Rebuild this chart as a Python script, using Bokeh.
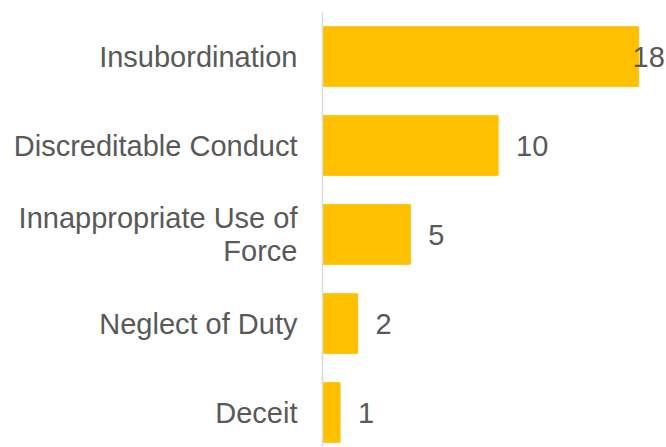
from bokeh.plotting import figure
from bokeh.models import Range1d, ColumnDataSource, FixedTicker
from bokeh.embed import file_html
from bokeh.resources import INLINE
from bokeh.core.properties import value

categories = ["Insubordination", "Discreditable Conduct", "Innappropriate Use of\nForce",
              "Neglect of Duty", "Deceit"]
counts = [18, 10, 5, 2, 1]

# layout
W, H = 666, 447
left_border = 322
top_border = 12
frame_w = W - left_border
frame_h = H - top_border
px_x = 17.56            # pixels per unit on x
row_px = 89             # pixels per category row
x_end = frame_w / px_x
n = len(categories)
ypos = [n - 1 - i for i in range(n)]
y_top = (n - 1) + 44 / row_px
y_bottom = y_top - frame_h / row_px

label_x = [min(c + 18 / px_x, x_end - 34 / px_x) for c in counts]
src = ColumnDataSource(dict(y=ypos, v=counts, lx=label_x, txt=[str(c) for c in counts]))

p = figure(width=W, height=H, output_backend="svg", toolbar_location=None,
           x_range=Range1d(0, x_end), y_range=Range1d(y_bottom, y_top),
           min_border_left=left_border, min_border_top=top_border,
           min_border_right=0, min_border_bottom=0)
p.outline_line_color = None
p.background_fill_color = "white"
p.border_fill_color = "white"
p.xgrid.visible = False
p.ygrid.visible = False
p.xaxis.visible = False

p.hbar(y="y", left=0, right="v", height=0.67, color="#FFC000", source=src)
p.text(x="lx", y="y", text="txt", source=src, text_align="left", text_baseline="middle",
       text_font=value("Liberation Sans"), text_font_size="29px", text_color="#595959")

ax = p.yaxis[0]
ax.ticker = FixedTicker(ticks=ypos)
ax.major_label_overrides = {y: c for y, c in zip(ypos, categories)}
ax.major_tick_line_color = None
ax.minor_tick_line_color = None
ax.major_tick_in = 0
ax.major_tick_out = 0
ax.major_label_standoff = 25
ax.axis_line_color = "#d9d9d9"
ax.axis_line_width = 1.5
ax.major_label_text_font = "Liberation Sans"
ax.major_label_text_font_size = "29px"
ax.major_label_text_line_height = 1.05
ax.major_label_text_color = "#595959"

open("out.html", "w").write(file_html(p, INLINE))
